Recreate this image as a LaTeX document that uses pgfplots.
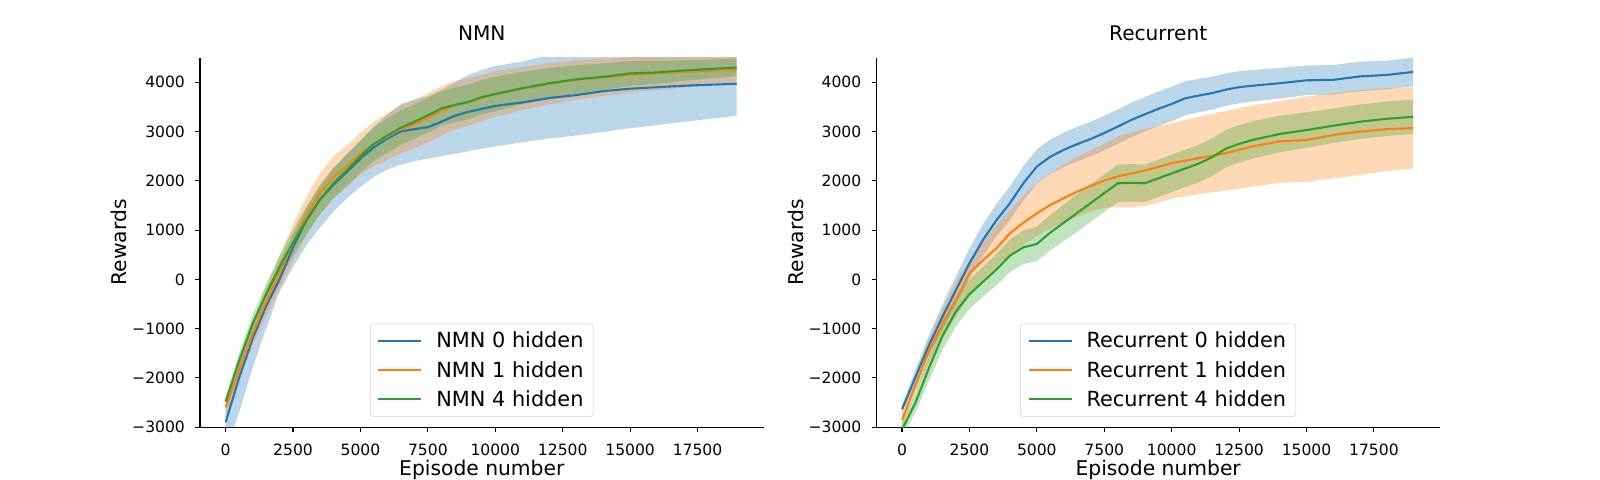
\documentclass[border=0pt]{standalone}
\usepackage{pgfplots}
\pgfplotsset{compat=1.18}
\usepackage{pgfplotstable}
\usepgfplotslibrary{fillbetween}
\usepackage{fontspec}
\setmainfont{DejaVu Sans}
\definecolor{c0}{HTML}{1F77B4}
\definecolor{c1}{HTML}{FF7F0E}
\definecolor{c2}{HTML}{2CA02C}

% x  mean  lo  hi
\pgfplotstableread{
x m lo hi
0 -2900 -3500 -2550
500 -2000 -2700 -1700
1000 -1200 -1800 -900
1500 -550 -1000 -250
2000 0 -250 350
2500 650 250 900
3000 1200 700 1450
3500 1620 1050 1900
4000 1920 1380 2250
4500 2180 1650 2550
5000 2450 1880 2800
5500 2680 2080 3100
6000 2860 2230 3350
6500 3000 2330 3550
7000 3050 2400 3650
7500 3090 2450 3720
8000 3200 2500 3850
8500 3320 2550 4000
9000 3400 2600 4150
9500 3460 2650 4250
10000 3520 2700 4330
11000 3590 2780 4420
12000 3680 2860 4560
13000 3740 2920 4600
14000 3820 2990 4620
15000 3870 3070 4650
16000 3900 3130 4680
17000 3930 3200 4700
18000 3950 3260 4700
18950 3970 3320 4720
}\LB
\pgfplotstableread{
x m lo hi
0 -2600 -2750 -2450
500 -1850 -2050 -1650
1000 -1100 -1350 -850
1500 -450 -750 -150
2000 150 -200 480
2500 750 380 1120
3000 1300 900 1680
3500 1750 1330 2150
4000 2080 1660 2500
4500 2300 1880 2720
5000 2550 2130 2970
5500 2750 2300 3200
6000 2900 2430 3370
6500 3050 2560 3540
7000 3150 2660 3640
7500 3280 2780 3780
8000 3420 2920 3920
8500 3530 3040 4020
9000 3600 3120 4080
9500 3680 3210 4150
10000 3760 3300 4220
11000 3870 3430 4310
12000 3970 3550 4390
13000 4050 3650 4450
14000 4100 3720 4480
15000 4150 3790 4510
16000 4180 3840 4520
17000 4210 3890 4530
18000 4240 3940 4540
18950 4260 3970 4550
}\LO
\pgfplotstableread{
x m lo hi
0 -2480 -2580 -2380
500 -1650 -1800 -1500
1000 -900 -1080 -720
1500 -300 -500 -100
2000 250 20 480
2500 750 490 1010
3000 1200 920 1480
3500 1620 1320 1920
4000 1950 1640 2260
4500 2220 1900 2540
5000 2500 2170 2830
5500 2750 2410 3090
6000 2920 2570 3270
6500 3080 2730 3430
7000 3200 2850 3550
7500 3330 2980 3680
8000 3470 3120 3820
8500 3540 3190 3890
9000 3600 3250 3950
9500 3700 3350 4050
10000 3760 3410 4110
11000 3880 3550 4210
12000 3980 3670 4290
13000 4060 3770 4350
14000 4110 3840 4380
15000 4180 3930 4430
16000 4200 3970 4430
17000 4240 4030 4450
18000 4270 4080 4460
18950 4300 4120 4480
}\LG
\pgfplotstableread{
x m lo hi
0 -2635 -2715 -2555
500 -1980 -2130 -1830
1000 -1335 -1535 -1135
1500 -760 -1010 -510
2000 -215 -495 65
2500 325 25 625
3000 800 480 1120
3500 1200 870 1530
4000 1545 1205 1885
4500 1950 1600 2300
5000 2290 1940 2640
5500 2490 2140 2840
6000 2630 2280 2980
6500 2745 2395 3095
7000 2850 2500 3200
7500 2970 2620 3320
8000 3100 2750 3450
8500 3235 2885 3585
9000 3350 3000 3700
9500 3460 3110 3810
10000 3560 3210 3910
10500 3675 3330 4020
11000 3730 3390 4070
11500 3780 3445 4115
12000 3850 3520 4180
12500 3900 3575 4225
13000 3930 3610 4250
14000 3980 3670 4290
15000 4040 3740 4340
16000 4050 3750 4350
17000 4120 3820 4420
18000 4150 3860 4440
18950 4210 3920 4500
}\RB
\pgfplotstableread{
x m lo hi
0 -2850 -3000 -2700
500 -2150 -2300 -1900
1000 -1450 -1700 -1200
1500 -900 -1200 -600
2000 -420 -750 -50
2500 120 -350 380
3000 390 0 750
3500 630 250 1100
4000 935 500 1400
4500 1150 700 1700
5000 1340 880 1950
5500 1510 1030 2150
6000 1650 1160 2330
6500 1780 1280 2480
7000 1900 1380 2620
7500 2005 1450 2750
8000 2090 1470 2900
8500 2150 1460 2980
9000 2210 1490 3050
9500 2280 1560 3110
10000 2360 1640 3170
11000 2460 1730 3300
12000 2560 1800 3420
13000 2700 1880 3530
14000 2800 1960 3620
15000 2830 1980 3710
16000 2930 2050 3780
17000 3000 2120 3840
18000 3050 2200 3880
18950 3070 2250 3900
}\RO
\pgfplotstableread{
x m lo hi
0 -3050 -3200 -2900
500 -2500 -2700 -2300
1000 -1800 -2050 -1550
1500 -1150 -1430 -870
2000 -650 -950 -350
2500 -300 -600 0
3000 -50 -350 250
3500 200 -120 520
4000 480 150 810
4500 650 310 990
5000 720 370 1070
5500 950 590 1310
6000 1150 780 1520
6500 1350 970 1730
7000 1550 1170 1930
7500 1750 1370 2130
8000 1950 1570 2330
8500 1960 1580 2340
9000 1950 1570 2330
9500 2050 1670 2430
10000 2150 1770 2530
10500 2250 1870 2630
11000 2350 1970 2730
11500 2480 2100 2860
12000 2650 2270 3030
12500 2750 2370 3130
13000 2830 2450 3210
14000 2950 2580 3320
15000 3030 2670 3390
16000 3120 2770 3470
17000 3200 2850 3550
18000 3260 2910 3610
18950 3300 2950 3650
}\RG

\pgfplotsset{
  mpl/.style={
    scale only axis, width=405.8pt, height=266.1pt,
    xmin=-950, xmax=19950, ymin=-3000, ymax=4500,
    scaled x ticks=false, scaled y ticks=false,
    axis x line*=bottom, axis y line*=left,
    axis line style={line width=0.8pt, black},
    tick align=outside, major tick length=3.5pt,
    every tick/.style={black, line width=0.8pt},
    xtick={0,2500,5000,7500,10000,12500,15000,17500},
    xticklabels={0,2500,5000,7500,10000,12500,15000,17500},
    ytick={-3000,-2000,-1000,0,1000,2000,3000,4000},
    yticklabels={−3000,−2000,−1000,0,1000,2000,3000,4000},
    ticklabel style={font=\fontsize{11.2}{13}\selectfont},
    xticklabel style={anchor=base, inner sep=0pt, yshift=-17.1pt},
    yticklabel style={anchor=east, inner sep=0pt, xshift=-7.2pt},
    xlabel={Episode number}, ylabel={Rewards},
    label style={font=\fontsize{14.6}{17}\selectfont},
    xlabel style={at={(axis description cs:0.5,-0.1293)}, anchor=base},
    ylabel style={at={(axis description cs:-0.1301,0.5)}, anchor=base},
    title style={at={(axis description cs:0.5,1.0226)}, anchor=base, font=\fontsize{14.5}{17}\selectfont},
    legend style={at={(axis description cs:0.5,0.0284)}, anchor=south,
      draw=black!20, rounded corners=2pt, fill=white, fill opacity=0.8, text opacity=1,
      font=\fontsize{15}{18}\selectfont, row sep=4pt, column sep=8pt, inner xsep=5pt, inner ysep=4pt},
    legend cell align=left,
    legend image code/.code={\draw[#1] (0pt,0pt) -- (31pt,0pt);},
  },
  band/.style={draw=none, forget plot},
  mline/.style={line width=1.5pt},
}

\begin{document}
\begin{tikzpicture}

\begin{axis}[mpl, at={(144pt,38pt)}, anchor=south west, title={NMN}]
\addplot[band, name path=lbl] table[x=x,y=lo] {\LB};
\addplot[band, name path=lbh] table[x=x,y=hi] {\LB};
\addplot[fill=c0, fill opacity=0.3, forget plot] fill between[of=lbl and lbh];
\addplot[band, name path=lol] table[x=x,y=lo] {\LO};
\addplot[band, name path=loh] table[x=x,y=hi] {\LO};
\addplot[fill=c1, fill opacity=0.3, forget plot] fill between[of=lol and loh];
\addplot[band, name path=lgl] table[x=x,y=lo] {\LG};
\addplot[band, name path=lgh] table[x=x,y=hi] {\LG};
\addplot[fill=c2, fill opacity=0.3, forget plot] fill between[of=lgl and lgh];
\addplot[mline, c0] table[x=x,y=m] {\LB};
\addplot[mline, c1] table[x=x,y=m] {\LO};
\addplot[mline, c2] table[x=x,y=m] {\LG};
\legend{NMN 0 hidden, NMN 1 hidden, NMN 4 hidden}
\end{axis}

\begin{axis}[mpl, at={(631pt,38pt)}, anchor=south west, title={Recurrent}]
\addplot[band, name path=rbl] table[x=x,y=lo] {\RB};
\addplot[band, name path=rbh] table[x=x,y=hi] {\RB};
\addplot[fill=c0, fill opacity=0.3, forget plot] fill between[of=rbl and rbh];
\addplot[band, name path=rol] table[x=x,y=lo] {\RO};
\addplot[band, name path=roh] table[x=x,y=hi] {\RO};
\addplot[fill=c1, fill opacity=0.3, forget plot] fill between[of=rol and roh];
\addplot[band, name path=rgl] table[x=x,y=lo] {\RG};
\addplot[band, name path=rgh] table[x=x,y=hi] {\RG};
\addplot[fill=c2, fill opacity=0.3, forget plot] fill between[of=rgl and rgh];
\addplot[mline, c0] table[x=x,y=m] {\RB};
\addplot[mline, c1] table[x=x,y=m] {\RO};
\addplot[mline, c2] table[x=x,y=m] {\RG};
\legend{Recurrent 0 hidden, Recurrent 1 hidden, Recurrent 4 hidden}
\end{axis}
\pgfresetboundingbox
\path[use as bounding box] (0,0) rectangle (1152pt,345.6pt);
\end{tikzpicture}
\end{document}
